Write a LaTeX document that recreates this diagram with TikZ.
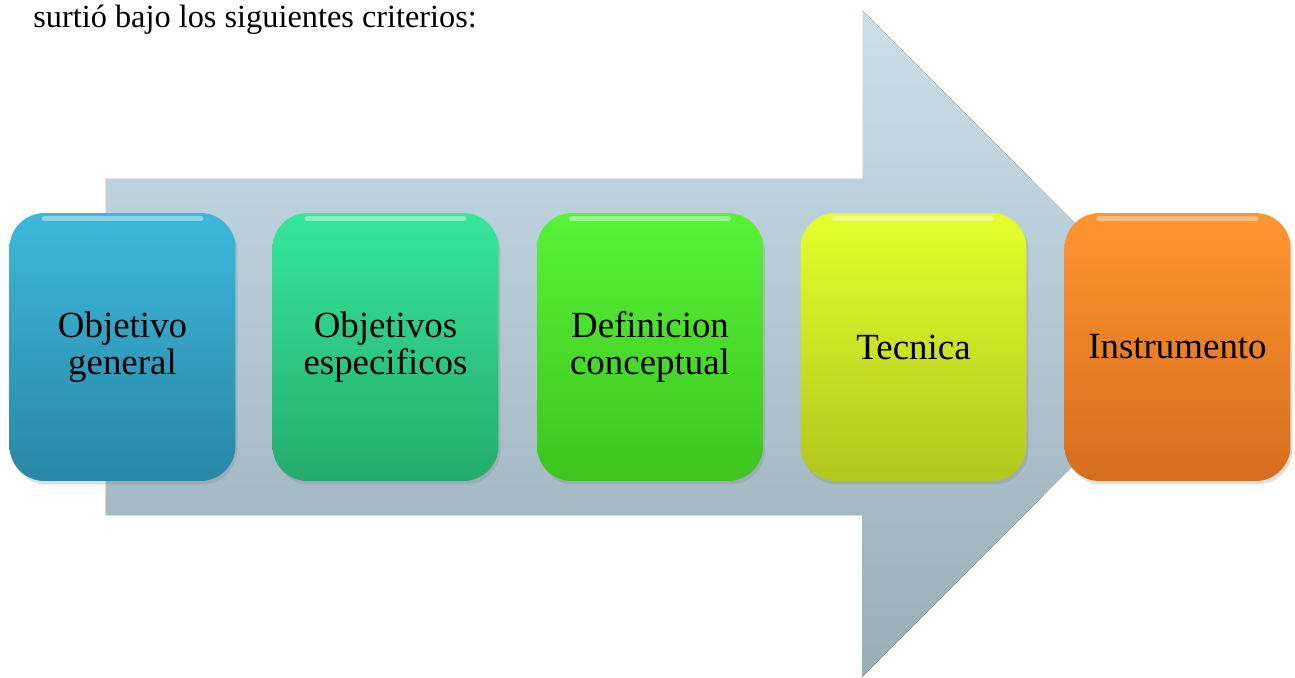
\documentclass[tikz,border=0pt]{standalone}
\usepackage{fontspec}
\setmainfont{Liberation Serif}
\usetikzlibrary{shadows}

\definecolor{shafttop}{HTML}{C9E0EA}
\definecolor{shaftbot}{HTML}{97ADB8}
\definecolor{obja}{HTML}{3DB8DB}
\definecolor{objb}{HTML}{2887A6}
\definecolor{espa}{HTML}{36E69C}
\definecolor{espb}{HTML}{25AC6C}
\definecolor{defa}{HTML}{58F238}
\definecolor{defb}{HTML}{3CC51E}
\definecolor{teca}{HTML}{E4FF2C}
\definecolor{tecb}{HTML}{B2C61E}
\definecolor{insa}{HTML}{FF9531}
\definecolor{insb}{HTML}{D56D1D}

\tikzset{
  stepbox/.style={rounded corners=0.7cm, minimum width=4.52cm, minimum height=5.36cm,
    align=center, text=black, font=\fontsize{21}{21}\selectfont,
    drop shadow={opacity=0.25, shadow xshift=0.04cm, shadow yshift=-0.07cm}},
  gloss/.style={white, opacity=0.4, line width=3pt, line cap=round}
}

\begin{document}
\begin{tikzpicture}[x=0.02cm, y=-0.02cm]
  \useasboundingbox (0,0) rectangle (1295,677);
  % intro line
  \node[anchor=base west, inner sep=0pt, font=\fontsize{18.4}{22}\selectfont] (intro) at (33,27) {surtió bajo los siguientes criterios:};
  % big arrow behind the boxes
  \fill[top color=shafttop, bottom color=shaftbot] (105,178) -- (862,178) -- (862,10) -- (1195,343.5) -- (862,677) -- (862,515) -- (105,515) -- cycle;
  \draw[white, opacity=0.5, line width=1.5pt] (105,515) -- (105,178) -- (862,178) -- (862,10);
  % the five steps
  \foreach \name/\x/\ca/\cb/\txt in {obj/122.5/obja/objb/{Objetivo\\general},
                                    esp/385.5/espa/espb/{Objetivos\\especificos},
                                    def/650/defa/defb/{Definicion\\conceptual},
                                    tec/913.5/teca/tecb/{Tecnica},
                                    ins/1177.5/insa/insb/{Instrumento}}{
    \node[stepbox, top color=\ca, bottom color=\cb] (\name) at (\x,347) {\txt};
    \draw[gloss] ([xshift=0.7cm, yshift=-0.12cm]\name.north west) -- ([xshift=-0.7cm, yshift=-0.12cm]\name.north east);
  }
\end{tikzpicture}
\end{document}
